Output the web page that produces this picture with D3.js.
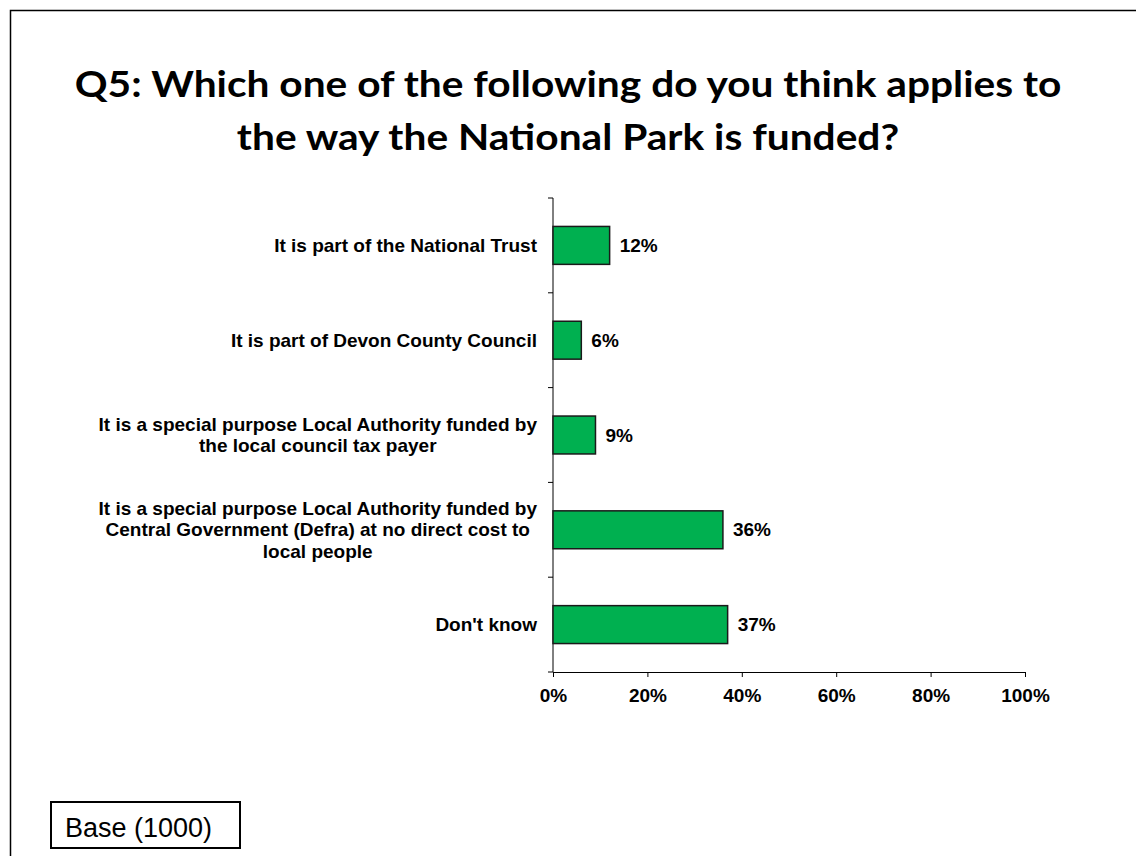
<!DOCTYPE html>
<html>
<head>
<meta charset="utf-8">
<script src="https://cdn.jsdelivr.net/npm/d3@7"></script>
<style>
  html, body { margin: 0; padding: 0; background: #fff; }
  svg { display: block; }
</style>
</head>
<body>
<svg id="chart" width="1136" height="856"></svg>
<script>
// Survey responses (percent of respondents)
const categories = [
  ["It is part of the National Trust"],
  ["It is part of Devon County Council"],
  ["It is a special purpose Local Authority funded by", "the local council tax payer"],
  ["It is a special purpose Local Authority funded by", "Central Government (Defra) at no direct cost to", "local people"],
  ["Don't know"]
];
const values = [12, 6, 9, 36, 37];
const xTicks = [0, 20, 40, 60, 80, 100];
const titleLines = [
  "Q5: Which one of the following do you think applies to",
  "the way the National Park is funded?"
];
const baseNote = "Base (1000)";

(function draw() {
  const svg = d3.select("#chart");

  // Slide frame
  svg.append("rect")
    .attr("x", 10.5).attr("y", 10.5)
    .attr("width", 1140).attr("height", 860)
    .attr("fill", "none").attr("stroke", "#000").attr("stroke-width", 1.5);

  // Title, widened slightly to the slide's title width
  const titleG = svg.append("g");
  const title = titleG.append("text")
    .attr("text-anchor", "middle")
    .attr("font-family", "Lato, 'Open Sans', sans-serif")
    .attr("font-weight", "bold")
    .attr("font-size", 37)
    .attr("fill", "#000");
  const tspans = title.selectAll("tspan").data(titleLines).join("tspan")
    .attr("x", 0)
    .attr("y", (d, i) => 97 + i * 53)
    .text(d => d);
  const w0 = tspans.node().getComputedTextLength();
  const sx = 987 / w0;
  titleG.attr("transform", `translate(568,0) scale(${sx},1)`);

  // Plot area
  const pLeft = 553, pRight = 1025, pTop = 198, pBottom = 672;
  const x = d3.scaleLinear().domain([0, 100]).range([pLeft, pRight]);
  const y = d3.scaleBand().domain(d3.range(categories.length)).range([pTop, pBottom])
    .paddingInner(0.6).paddingOuter(0.3);
  const bandStep = (pBottom - pTop) / categories.length;

  const labelFont = "'Liberation Sans', Arial, sans-serif";
  const fs = 19;

  // Category axis line and separators
  const g = svg.append("g");
  g.append("line")
    .attr("x1", pLeft).attr("x2", pLeft)
    .attr("y1", pTop).attr("y2", pBottom)
    .attr("stroke", "#000").attr("stroke-width", 1);
  g.selectAll("line.sep").data(d3.range(categories.length + 1)).join("line")
    .attr("class", "sep")
    .attr("x1", pLeft - 5).attr("x2", pLeft)
    .attr("y1", d => pTop + d * bandStep).attr("y2", d => pTop + d * bandStep)
    .attr("stroke", "#000").attr("stroke-width", 1);

  // Value axis
  const xAxis = d3.axisBottom(x).tickValues(xTicks).tickSize(5).tickPadding(12)
    .tickFormat(d => d + "%");
  const xg = svg.append("g").attr("transform", `translate(0,${pBottom})`).call(xAxis);
  xg.select(".domain").attr("stroke", "#000").attr("stroke-width", 1);
  xg.selectAll(".tick line").attr("stroke", "#000");
  xg.selectAll(".tick text")
    .attr("font-family", labelFont).attr("font-weight", "bold")
    .attr("font-size", fs).attr("fill", "#000");

  // Bars
  svg.selectAll("rect.bar").data(values).join("rect")
    .attr("class", "bar")
    .attr("x", x(0))
    .attr("y", (d, i) => y(i))
    .attr("width", d => x(d) - x(0))
    .attr("height", y.bandwidth())
    .attr("fill", "#00B050")
    .attr("stroke", "#1a1a1a").attr("stroke-width", 1.5);

  // Value labels
  svg.selectAll("text.val").data(values).join("text")
    .attr("class", "val")
    .attr("x", d => x(d) + 10)
    .attr("y", (d, i) => y(i) + y.bandwidth() / 2)
    .attr("dy", "0.35em")
    .attr("font-family", labelFont).attr("font-weight", "bold")
    .attr("font-size", fs).attr("fill", "#000")
    .text(d => d + "%");

  // Category labels: centred block whose widest line ends just left of the axis
  const lineH = 21.5;
  categories.forEach((lines, i) => {
    const t = svg.append("text")
      .attr("text-anchor", "middle")
      .attr("font-family", labelFont).attr("font-weight", "bold")
      .attr("font-size", fs).attr("fill", "#000");
    const cy = y(i) + y.bandwidth() / 2;
    const spans = t.selectAll("tspan").data(lines).join("tspan")
      .attr("y", (d, k) => cy + (k - (lines.length - 1) / 2) * lineH)
      .attr("dy", "0.35em")
      .text(d => d);
    let maxW = 0;
    spans.each(function () { maxW = Math.max(maxW, this.getComputedTextLength()); });
    spans.attr("x", pLeft - 16 - maxW / 2);
  });

  // Base note box
  svg.append("rect")
    .attr("x", 51).attr("y", 802).attr("width", 189).attr("height", 46)
    .attr("fill", "#fff").attr("stroke", "#000").attr("stroke-width", 2);
  svg.append("text")
    .attr("x", 65).attr("y", 837)
    .attr("font-family", labelFont).attr("font-size", 27).attr("fill", "#000")
    .text(baseNote);
})();
</script>
</body>
</html>
